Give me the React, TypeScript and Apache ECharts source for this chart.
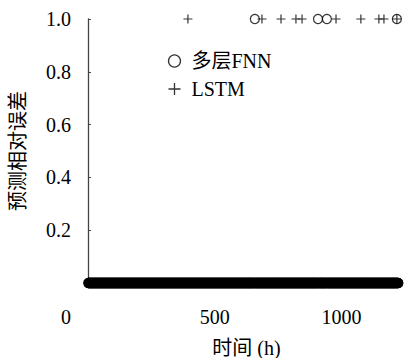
import React, { useEffect, useRef } from "react";
import * as echarts from "echarts";

// Observation window (hours)
const totalHours = 1224;
// Hours where relative error hits 1.0 (all other hours are 0)
const fnnSpikeHours = [658, 907, 942, 1218];
const lstmSpikeHours = [394, 686, 761, 820, 844, 978, 1076, 1147, 1167, 1218];
const xTicks = [0, 500, 1000];
const yTicks = [0, 0.2, 0.4, 0.6, 0.8, 1.0];
const seriesNames = ["多层FNN", "LSTM"];

const hours: number[] = Array.from({ length: totalHours }, (_, i) => i + 1);
const buildSeries = (spikes: number[]) =>
  hours.map((h) => [h, spikes.includes(h) ? 1 : 0]);

const PLUS = "path://M0,5 L10,5 M5,0 L5,10";
const FONT = "'Liberation Serif', 'Noto Sans CJK SC', serif";
const FS = 20;

export default function App() {
  const ref = useRef<HTMLDivElement>(null);
  useEffect(() => {
    if (!ref.current) return;
    const chart = echarts.init(ref.current, undefined, { renderer: "svg" });
    chart.setOption({
      animation: false,
      backgroundColor: "#fff",
      grid: {
        left: 88,
        right: 0,
        top: 19,
        bottom: 75,
        containLabel: false,
        outerBoundsMode: "none",
      },
      legend: {
        orient: "vertical",
        left: 166,
        top: 51,
        padding: 0,
        itemWidth: 12,
        itemHeight: 12,
        itemGap: 8,
        textStyle: { fontFamily: FONT, fontSize: FS, color: "#000", padding: [0, 0, 0, 6] },
        data: [
          {
            name: seriesNames[0],
            icon: "circle",
            itemStyle: { color: "none", borderColor: "#000", borderWidth: 1.3 },
          },
          {
            name: seriesNames[1],
            icon: PLUS,
            itemStyle: { color: "none", borderColor: "#000", borderWidth: 1.3 },
          },
        ],
      },
      xAxis: {
        type: "value",
        min: 0,
        max: 1250,
        interval: 500,
        name: "时间 (h)",
        nameLocation: "middle",
        nameGap: 55,
        nameTextStyle: { fontFamily: FONT, fontSize: FS, color: "#000" },
        axisLine: { show: false },
        axisTick: { show: false },
        splitLine: { show: false },
        axisLabel: {
          margin: 24,
          fontFamily: FONT,
          fontSize: FS,
          color: "#000",
          customValues: xTicks,
          formatter: (v: number) => (v === 0 ? "{z|0}" : String(v)),
          rich: { z: { padding: [0, 44, 0, 0], fontFamily: FONT, fontSize: FS, color: "#000" } },
        },
      },
      yAxis: {
        type: "value",
        min: 0,
        max: 1,
        interval: 0.2,
        name: "预测相对误差",
        nameLocation: "middle",
        nameGap: 60,
        nameTextStyle: { fontFamily: FONT, fontSize: FS, color: "#000" },
        axisLine: { show: true, lineStyle: { color: "#444", width: 1.3 } },
        axisTick: { show: true, inside: true, length: 3, lineStyle: { color: "#444" } },
        splitLine: { show: false },
        axisLabel: {
          margin: 17,
          fontFamily: FONT,
          fontSize: FS,
          color: "#000",
          customValues: yTicks,
          formatter: (v: number) => (v === 0 ? "" : v.toFixed(1)),
        },
      },
      series: [
        {
          name: seriesNames[0],
          type: "scatter",
          symbol: "circle",
          symbolSize: 9,
          progressive: 0,
          itemStyle: { color: "none", borderColor: "#000", borderWidth: 1.2 },
          data: buildSeries(fnnSpikeHours),
        },
        {
          name: seriesNames[1],
          type: "scatter",
          symbol: PLUS,
          symbolSize: 9,
          progressive: 0,
          itemStyle: { color: "none", borderColor: "#000", borderWidth: 1.2 },
          data: buildSeries(lstmSpikeHours),
        },
      ],
    });
    return () => chart.dispose();
  }, []);
  return <div ref={ref} style={{ width: 405, height: 358, position: "absolute", left: 0, top: 0 }} />;
}
